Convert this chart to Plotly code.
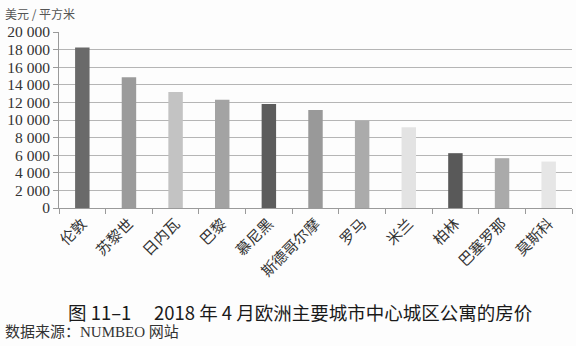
import plotly.graph_objects as go

cities = ["伦敦", "苏黎世", "日内瓦", "巴黎", "慕尼黑", "斯德哥尔摩", "罗马", "米兰", "柏林", "巴塞罗那", "莫斯科"]
prices = [18230, 14870, 13170, 12300, 11810, 11130, 9920, 9170, 6230, 5660, 5280]
bar_colors = ["#6a6a6a", "#9b9b9b", "#c3c3c3", "#a3a3a3", "#5c5c5c", "#999999",
              "#ababab", "#e3e3e3", "#595959", "#aaaaaa", "#e6e6e6"]
yticks = [0, 2000, 4000, 6000, 8000, 10000, 12000, 14000, 16000, 18000, 20000]
ytick_text = ["0", "2 000", "4 000", "6 000", "8 000", "10 000", "12 000", "14 000", "16 000", "18 000", "20 000"]

W, H = 576, 346
ML, MR, MT, MB = 59, 4, 32, 138
PW, PH = W - ML - MR, H - MT - MB

def px_x(x):
    return (x - ML) / PW

def px_y(y):
    return (H - MB - y) / PH

fig = go.Figure(go.Bar(x=cities, y=prices, marker=dict(color=bar_colors, line=dict(width=0))))

CJK = "Noto Sans CJK SC"
SERIF_CJK = "Liberation Serif, Noto Sans CJK SC"

fig.update_layout(
    width=W, height=H,
    margin=dict(l=ML, r=MR, t=MT, b=MB),
    paper_bgcolor="#fdfdfd", plot_bgcolor="#fdfdfd",
    bargap=0.69,
    showlegend=False,
    xaxis=dict(
        tickangle=-45,
        tickfont=dict(family=CJK, size=15, color="#333333"),
        showline=True, linecolor="#9a9a9a", linewidth=1,
        ticks="outside", ticklen=5, tickcolor="#9a9a9a",
        tickson="boundaries", showgrid=False,
    ),
    yaxis=dict(
        range=[0, 20000],
        tickvals=yticks, ticktext=ytick_text,
        tickfont=dict(family="Liberation Serif", size=15.5, color="#333333"),
        showline=True, linecolor="#9a9a9a", linewidth=1,
        ticks="outside", ticklen=5, tickcolor="#9a9a9a",
        showgrid=True, gridcolor="#b5b5b5", gridwidth=1,
        zeroline=False,
    ),
    annotations=[
        dict(text="美元 / 平方米", xref="paper", yref="paper",
             x=px_x(3), y=px_y(14), xanchor="left", yanchor="middle",
             showarrow=False, font=dict(family=CJK, size=12, color="#555555")),
        dict(text="图 11–1　 2018 年 4 月欧洲主要城市中心城区公寓的房价", xref="paper", yref="paper",
             x=px_x(300), y=px_y(312), xanchor="center", yanchor="middle",
             showarrow=False, font=dict(family="Noto Sans CJK SC", size=18.5, color="#1a1a1a")),
        dict(text="数据来源：NUMBEO 网站", xref="paper", yref="paper",
             x=px_x(3), y=px_y(332), xanchor="left", yanchor="middle",
             showarrow=False, font=dict(family=SERIF_CJK, size=15, color="#333333")),
    ],
)

fig.write_html("out.html")
